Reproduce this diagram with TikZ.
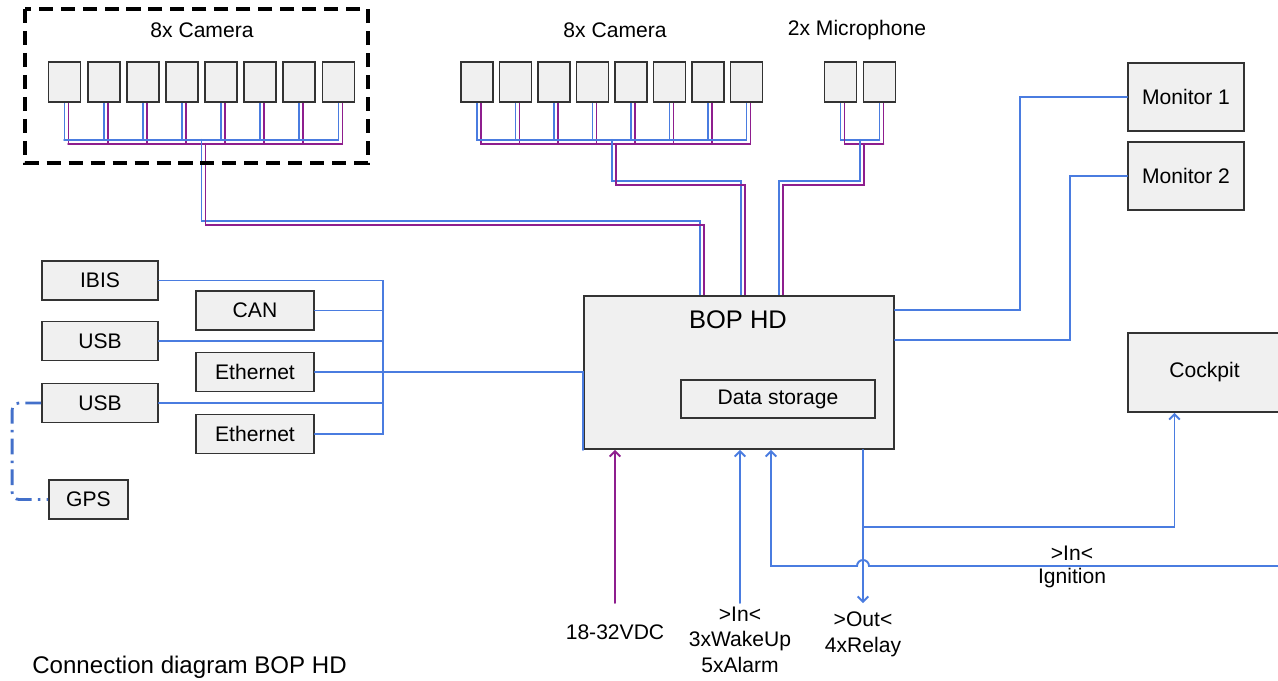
\documentclass[tikz,border=0pt]{standalone}
\usepackage{fontspec}
\setmainfont{Liberation Sans}
\usepackage{tikz}
\usetikzlibrary{positioning, arrows.meta, calc, backgrounds}
\definecolor{wireblue}{HTML}{4A7CE0}
\definecolor{wirepurple}{HTML}{8E1E8E}
\definecolor{boxgray}{HTML}{F0F0F0}
\definecolor{edgegray}{HTML}{333333}

% a video cable: blue and purple core side by side
\newcommand{\duct}[1]{%
  \draw[bluecore] #1;
  \draw[purplecore] #1;}

\tikzset{
  unit/.style={draw=edgegray, line width=1pt, fill=boxgray, inner sep=0pt,
               font=\fontsize{12}{14.5}\selectfont},
  cam/.style={unit, minimum width=0.64cm, minimum height=0.8cm},
  port/.style={unit, minimum width=2.32cm, minimum height=0.78cm},
  busport/.style={unit, minimum width=2.36cm, minimum height=0.78cm},
  screen/.style={unit, minimum width=2.32cm, minimum height=1.36cm},
  txt/.style={inner sep=0pt, font=\fontsize{12}{14.5}\selectfont},
  wire/.style={draw=wireblue, line width=1.1pt, line cap=round},
  bluecore/.style={wire},
  purplecore/.style={wire, draw=wirepurple, transform canvas={shift={(0.08cm,-0.08cm)}}},
  inarrow/.style={-{Straight Barb[length=3pt,width=6pt]}},
  gpslink/.style={draw=wireblue!90!black, line width=1.6pt, rounded corners=4pt,
                  dash pattern=on 9pt off 3.5pt on 1.5pt off 3.5pt},
  groupframe/.style={draw=black, line width=2.3pt, dash pattern=on 8pt off 4.5pt}
}

\begin{document}
\begin{tikzpicture}[x=0.02cm, y=-0.02cm]
  \useasboundingbox (0,0) rectangle (1278,680);

  % cameras and microphones
  \node[txt] (camlblL) at (202,30) {8x Camera};
  \node[txt] (camlblM) at (615,30) {8x Camera};
  \node[txt] (miclbl) at (857,30) {2x Microphone};
  \foreach \i in {1,...,8} {
    \node[cam] (cl\i) at ({64.5+39.14*(\i-1)},82) {};
    \node[cam] (cm\i) at ({477+38.5*(\i-1)},82) {};
  }
  \node[cam] (mic1) at (840.5,82) {};
  \node[cam] (mic2) at (879.5,82) {};
  \draw[groupframe] (25,9) rectangle (368,163);

  % recorder
  \node[unit, minimum width=6.2cm, minimum height=3.06cm] (bop) at (739,372.5) {};
  \node[txt, font=\fontsize{14.5}{16}\selectfont] (boplbl) at (738,320) {BOP HD};
  \node[unit, minimum width=3.88cm, minimum height=0.76cm] (store) at (778,399) {Data storage};

  % interfaces
  \node[port] (ibis) at (100,280.5) {IBIS};
  \node[port] (usba) at (100,341) {USB};
  \node[port] (usbb) at (100,403) {USB};
  \node[busport] (can) at (255,310.5) {CAN};
  \node[busport] (etha) at (255,372) {Ethernet};
  \node[busport] (ethb) at (255,434) {Ethernet};
  \node[unit, minimum width=1.58cm, minimum height=0.78cm] (gps) at (88.5,499.5) {GPS};

  \node[screen] (mon1) at (1186,97) {Monitor 1};
  \node[screen] (mon2) at (1186,176) {Monitor 2};
  \node[unit, minimum width=3.06cm, minimum height=1.58cm] (cockpit) at (1204.5,372.5) {Cockpit};

  % video and audio cables
  \begin{scope}[on background layer]
    \foreach \i in {1,...,8} {
      \duct{($(cl\i.south)+(0,-4)$) |- ($(cl1.south)+(0,37)$)}
      \duct{($(cm\i.south)+(0,-4)$) |- ($(cm1.south)+(0,37)$)}
    }
    \duct{($(mic1.south)+(0,-4)$) |- ($(mic2.south)+(0,37)$)}
    \duct{($(mic2.south)+(0,-4)$) -- ($(mic2.south)+(0,37)$)}
    \duct{($(cl4.south)!.5!(cl5.south)+(0,37)$) -- ++(0,81) -| ($(bop.north)+(-39,0)$)}
    \duct{($(cm4.south)!.5!(cm5.south)+(0,37)$) -- ++(0,41) -| ($(bop.north)+(2,0)$)}
    \duct{($(mic1.south)!.5!(mic2.south)+(0,37)$) -- ++(0,41) -| ($(bop.north)+(40,0)$)}
  \end{scope}

  % data bus
  \coordinate (hub) at (383,372);
  \draw[wire] (ibis.east) -- (ibis.east -| hub) -- (ethb.east -| hub) -- (ethb.east);
  \draw[wire] (can.east) -- (can.east -| hub);
  \draw[wire] (usba.east) -- (usba.east -| hub);
  \draw[wire] (usbb.east) -- (usbb.east -| hub);
  \draw[wire] (etha.east) -- (etha.east -| bop.west) -- (bop.south west);
  \draw[gpslink] (usbb.west) -- ++(-29,0) |- (gps.west);

  % monitors
  \draw[wire] ($(bop.north east)+(0,15)$) -- ++(125,0) |- (mon1.west);
  \draw[wire] ($(bop.north east)+(0,45)$) -- ++(175,0) |- (mon2.west);

  % power and I/O
  \coordinate (vdc) at (615,603);
  \coordinate (wake) at (740,603);
  \coordinate (relay) at (863,603);
  \coordinate (tap) at (863,527);
  \coordinate (ign) at (1290,566);
  \coordinate (ignx) at (771,566);
  \draw[wire, draw=wirepurple, inarrow] (vdc) -- (vdc |- bop.south);
  \draw[wire, inarrow] (wake) -- (wake |- bop.south);
  \draw[wire, inarrow] (relay |- bop.south) -- (relay);
  \draw[wire, inarrow] (tap) -| ($(cockpit.south)+(-30,0)$);
  \draw[wire, inarrow] (ign) -- ($(relay |- ign)+(6,0)$)
    arc[start angle=0, end angle=180, radius=0.12cm] -- (ignx) -- (ignx |- bop.south);

  \node[txt, below=12pt of vdc] (vdclbl) {18-32VDC};
  \node[txt, align=center, below=2pt of wake] (wakelbl) {>In<\\3xWakeUp\\5xAlarm};
  \node[txt, align=center, below=5pt of relay] (relaylbl) {>Out<\\4xRelay};
  \node[txt] (ignin) at (1072,553) {>In<};
  \node[txt] (ignlbl) at (1072,578) {Ignition};

  \node[anchor=base west, inner sep=0pt, font=\fontsize{13.7}{16}\selectfont]
    (title) at (32,673) {Connection diagram BOP HD};
\end{tikzpicture}
\end{document}
